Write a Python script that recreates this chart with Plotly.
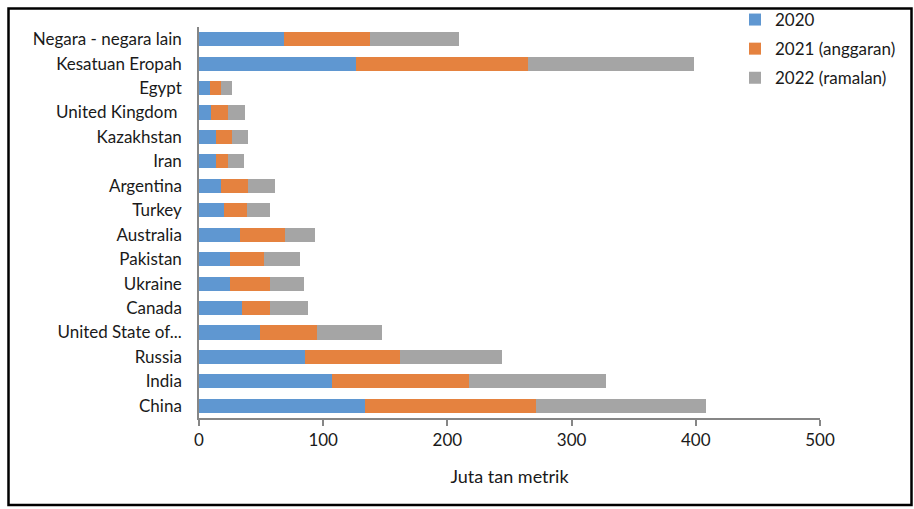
import plotly.graph_objects as go

countries = ["China", "India", "Russia", "United State of...", "Canada", "Ukraine",
             "Pakistan", "Australia", "Turkey", "Argentina", "Iran", "Kazakhstan",
             "United Kingdom ", "Egypt", "Kesatuan Eropah", "Negara - negara lain"]
v2020 = [134, 107, 85.6, 49.4, 35, 24.7, 25, 32.7, 20.3, 18, 13.7, 14, 9.4, 9, 126.6, 68.5]
v2021 = [137, 110, 76, 45.3, 22, 32.2, 27, 36.3, 18, 21.7, 9.4, 12.3, 14.2, 9, 138.4, 69.5]
v2022 = [137.5, 111, 82, 52.5, 31, 28, 29, 24.3, 18.6, 21.2, 12.9, 13.1, 13.2, 8.6, 133.5, 71]
series_names = ["2020", "2021 (anggaran)", "2022 (ramalan)"]
colors = ["#5F97D1", "#E5823F", "#A5A5A5"]

FONT = "Lato"

fig = go.Figure()
for i, (name, vals) in enumerate(zip(series_names, [v2020, v2021, v2022])):
    fig.add_trace(go.Bar(
        y=countries, x=vals, name=name, orientation="h",
        marker=dict(color=colors[i], line=dict(width=0)),
        legendgroup=name,
    ))

L, R, T, B = 199, 94, 27, 91
W, H = 914, 509
pw, ph = W - L - R, H - T - B

def px_to_paper_x(px):
    return (px - L) / pw

def px_to_paper_y(py):
    return (H - B - py) / ph

fig.update_layout(
    width=W, height=H,
    margin=dict(l=L, r=R, t=T, b=B, pad=0, autoexpand=False),
    barmode="stack", bargap=0.42,
    plot_bgcolor="white", paper_bgcolor="white",
    font=dict(family=FONT, size=17, color="#1a1a1a"),
    legend=dict(
        x=px_to_paper_x(735), xanchor="left",
        y=px_to_paper_y(2), yanchor="top",
        font=dict(family=FONT, size=17, color="#1a1a1a"),
        tracegroupgap=4, itemwidth=30, bgcolor="rgba(0,0,0,0)",
        traceorder="grouped",
    ),
    xaxis=dict(
        range=[0, 500], dtick=100, tick0=0,
        showgrid=False, zeroline=False,
        showline=True, linecolor="#868686", linewidth=1.5,
        ticks="outside", ticklen=6, tickcolor="#868686", tickwidth=1.5,
        tickfont=dict(family=FONT, size=17, color="#1a1a1a"),
        title=dict(text="Juta tan metrik", font=dict(family=FONT, size=18, color="#1a1a1a"), standoff=21),
        fixedrange=True,
    ),
    yaxis=dict(
        showgrid=False, zeroline=False,
        showline=True, linecolor="#868686", linewidth=1.5,
        ticks="", ticklabelstandoff=12,
        tickfont=dict(family=FONT, size=17, color="#1a1a1a"),
        fixedrange=True,
    ),
    shapes=[dict(
        type="rect", xref="paper", yref="paper",
        x0=px_to_paper_x(8.5), x1=px_to_paper_x(911.5),
        y0=px_to_paper_y(505), y1=px_to_paper_y(8.5),
        line=dict(color="black", width=2.5), fillcolor="rgba(0,0,0,0)", layer="above",
    )],
)

fig.write_html("out.html")
